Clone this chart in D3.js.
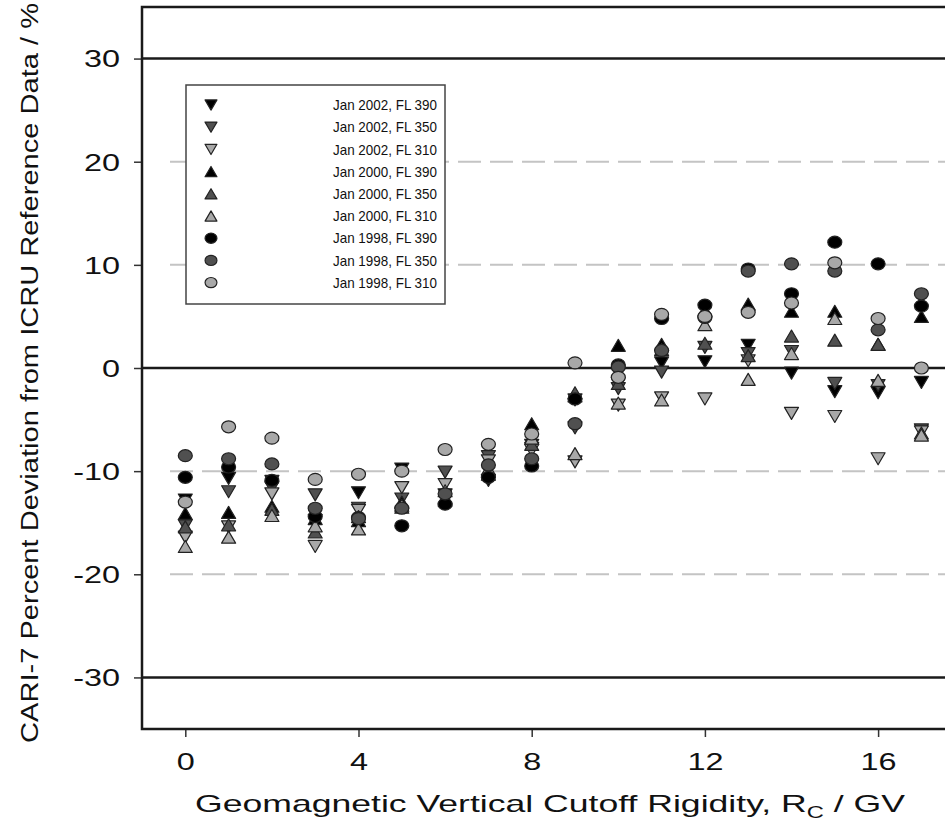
<!DOCTYPE html>
<html lang="en">
<meta charset="utf-8">
<script src="https://d3js.org/d3.v7.min.js"></script>
<style>
  body { margin: 0; background: #fff; }
  text { font-family: "Liberation Sans", Arial, sans-serif; fill: #111; }
</style>
<body>
<div id="chart"></div>
<script>
// rigidity values (GV)
var rigidity = d3.range(0, 18);

// percent deviation, one array per flight / date
var jan2002_fl390 = [-12.8, -10.7, -11.0, -14.8, -12.1, -9.8, -12.3, -10.9, -7.5, -3.1, -1.5, 0.5, 0.6, 2.2, -0.5, -2.3, -2.4, -1.4];
var jan2002_fl350 = [-15.3, -12.0, -11.6, -12.3, -13.6, -12.7, -10.1, -8.6, -7.8, -5.8, -2.0, -0.4, 2.0, 1.4, 1.6, -1.5, -1.7, -6.0];
var jan2002_fl310 = [-16.4, -15.4, -12.2, -17.3, -13.8, -11.6, -11.3, -9.0, -8.0, -9.1, -3.6, -2.9, -3.0, 0.7, -4.4, -4.7, -8.8, -6.2];
var jan2000_fl390 = [-14.1, -14.0, -13.4, -14.6, -14.8, -13.0, -12.6, -10.3, -5.4, -2.7, 2.2, 2.3, 5.6, 6.2, 5.5, 5.5, 2.3, 5.0];
var jan2000_fl350 = [-15.4, -15.2, -13.7, -15.9, -14.4, -13.5, -12.8, -10.0, -7.4, -2.4, -1.5, 1.8, 2.4, 1.2, 3.1, 2.7, 2.3, -6.3];
var jan2000_fl310 = [-17.3, -16.4, -14.3, -15.3, -15.6, -13.3, -11.9, -9.8, -6.8, -8.3, -3.4, -3.1, 4.2, -1.1, 1.4, 4.8, -1.2, -6.5];
var jan1998_fl390 = [-10.6, -9.6, -10.9, -14.4, -14.5, -15.3, -13.2, -10.6, -9.5, -3.0, 0.3, 4.8, 6.1, 9.6, 7.2, 12.2, 10.1, 6.0];
var jan1998_fl350 = [-8.5, -8.8, -9.3, -13.6, -14.6, -13.6, -12.2, -9.4, -8.8, -5.4, 0.1, 1.7, 4.9, 9.4, 10.1, 9.4, 3.7, 7.2];
var jan1998_fl310 = [-13.0, -5.7, -6.8, -10.8, -10.3, -10.0, -7.9, -7.4, -6.4, 0.5, -0.9, 5.2, 5.0, 5.4, 6.3, 10.2, 4.8, 0.0];

var seriesNames = ["Jan 2002, FL 390", "Jan 2002, FL 350", "Jan 2002, FL 310",
                   "Jan 2000, FL 390", "Jan 2000, FL 350", "Jan 2000, FL 310",
                   "Jan 1998, FL 390", "Jan 1998, FL 350", "Jan 1998, FL 310"];
var seriesValues = [jan2002_fl390, jan2002_fl350, jan2002_fl310,
                    jan2000_fl390, jan2000_fl350, jan2000_fl310,
                    jan1998_fl390, jan1998_fl350, jan1998_fl310];
var seriesShape = ["down", "down", "down", "up", "up", "up", "circle", "circle", "circle"];
var seriesFill = ["#000", "#505050", "#a8a8a8", "#000", "#505050", "#a8a8a8", "#000", "#505050", "#a8a8a8"];

var xTicks = [0, 4, 8, 12, 16];
var yTicks = [-30, -20, -10, 0, 10, 20, 30];
var solidLines = [-30, 0, 30];
var dashedLines = [-20, -10, 10, 20];

var W = 945, H = 825;
var plotLeft = 142, plotTop = 7, plotBottom = 729;
var stretch = 1.35; // labels in the source are wide

var svg = d3.select("#chart").append("svg")
    .attr("width", W)
    .attr("height", H);

var x = d3.scaleLinear().domain([-1, 18]).range([plotLeft, plotLeft + 19 * 43.3]);
var y = d3.scaleLinear().domain([-35, 35]).range([plotBottom, plotTop]);
var plotRight = x(18);

// grid lines
svg.selectAll(".dash").data(dashedLines).enter().append("line")
    .attr("x1", plotLeft + 28).attr("x2", plotRight)
    .attr("y1", d => y(d)).attr("y2", d => y(d))
    .attr("stroke", "#c4c4c4").attr("stroke-width", 2)
    .attr("stroke-dasharray", "23,9");

svg.selectAll(".solid").data(solidLines).enter().append("line")
    .attr("x1", plotLeft).attr("x2", plotRight)
    .attr("y1", d => y(d)).attr("y2", d => y(d))
    .attr("stroke", "#1a1a1a").attr("stroke-width", 2.5);

// axes
var plainNum = d => String(d);
var xAxis = svg.append("g")
    .attr("transform", "translate(0," + plotBottom + ")")
    .call(d3.axisBottom(x).tickValues(xTicks).tickSize(8).tickPadding(16).tickFormat(plainNum));
var yAxis = svg.append("g")
    .attr("transform", "translate(" + plotLeft + ",0)")
    .call(d3.axisLeft(y).tickValues(yTicks).tickSize(8).tickPadding(14).tickFormat(plainNum));

[xAxis, yAxis].forEach(function(g) {
  g.select(".domain").remove();
  g.selectAll(".tick line").attr("stroke", "#333").attr("stroke-width", 1.5);
  g.selectAll(".tick text").style("font-size", "24px").attr("fill", "#111")
    .attr("transform", "scale(" + stretch + ",1)");
});
yAxis.selectAll(".tick text").attr("dy", "0.35em").attr("x", -22 / stretch);

// frame
svg.append("path")
    .attr("d", "M" + (plotRight + 5) + "," + plotTop + "H" + plotLeft + "V" + plotBottom + "H" + (plotRight + 5))
    .attr("fill", "none").attr("stroke", "#1a1a1a").attr("stroke-width", 2.5);

// marker shapes
function shapePath(kind, s) {
  var w = 7 * s, h = 6 * s;
  if (kind === "down") return "M" + (-w) + "," + (-h) + "L" + w + "," + (-h) + "L0," + h + "Z";
  return "M" + (-w) + "," + h + "L" + w + "," + h + "L0," + (-h) + "Z";
}
function drawMarker(g, kind, fill, s) {
  if (kind === "circle") {
    g.append("ellipse").attr("rx", 7 * s).attr("ry", 6 * s)
      .attr("fill", fill).attr("stroke", "#222").attr("stroke-width", 1.2);
  } else {
    g.append("path").attr("d", shapePath(kind, s))
      .attr("fill", fill).attr("stroke", "#222").attr("stroke-width", 1.2)
      .attr("stroke-linejoin", "round");
  }
}

// points
seriesValues.forEach(function(vals, i) {
  var g = svg.append("g");
  vals.forEach(function(v, j) {
    var m = g.append("g").attr("transform", "translate(" + x(rigidity[j]) + "," + y(v) + ")");
    drawMarker(m, seriesShape[i], seriesFill[i], 1);
  });
});

// legend
var legend = svg.append("g");
legend.append("rect")
    .attr("x", 186).attr("y", 85).attr("width", 259).attr("height", 219)
    .attr("fill", "#fff").attr("stroke", "#444").attr("stroke-width", 1.5);
seriesNames.forEach(function(name, i) {
  var yy = 105 + i * 22.2;
  var m = legend.append("g").attr("transform", "translate(211," + yy + ")");
  drawMarker(m, seriesShape[i], seriesFill[i], 0.85);
  legend.append("text")
      .attr("x", 333).attr("y", yy).attr("dy", "0.35em")
      .attr("textLength", 104).attr("lengthAdjust", "spacingAndGlyphs")
      .style("font-size", "15px")
      .text(name);
});

// axis titles
var xt = svg.append("text")
    .attr("x", 550).attr("y", 812)
    .attr("text-anchor", "middle")
    .attr("textLength", 710).attr("lengthAdjust", "spacingAndGlyphs")
    .style("font-size", "24px");
xt.append("tspan").text("Geomagnetic Vertical Cutoff Rigidity, R");
xt.append("tspan").attr("dy", 6).style("font-size", "16px").text("C");
xt.append("tspan").attr("dy", -6).text(" / GV");

svg.append("text")
    .attr("transform", "translate(38,373) rotate(-90)")
    .attr("text-anchor", "middle")
    .attr("textLength", 740).attr("lengthAdjust", "spacingAndGlyphs")
    .style("font-size", "23px")
    .text("CARI-7 Percent Deviation from ICRU Reference Data / %");
</script>
</body>
</html>
